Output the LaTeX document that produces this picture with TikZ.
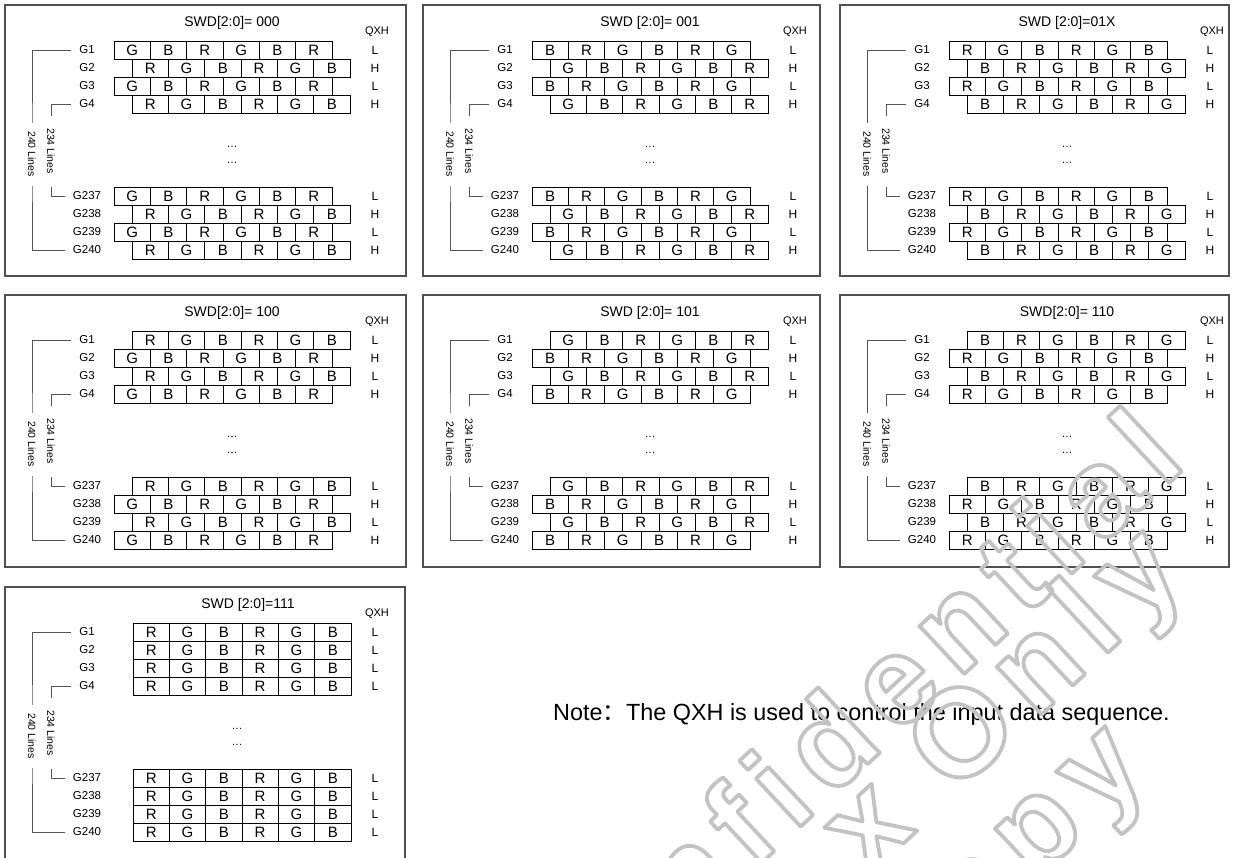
\documentclass[tikz,border=0pt]{standalone}
\usepackage{fontspec}
\setmainfont{Liberation Sans}
\newfontfamily\cjkfont{Noto Sans CJK SC}
\newfontfamily\wmfont[LetterSpace=12]{Liberation Sans}
\definecolor{framegray}{RGB}{80,80,80}
\definecolor{linegray}{RGB}{85,85,85}
\definecolor{wmgray}{RGB}{195,195,195}
\newcommand\outlined[1]{\special{pdf:code 1 Tr 3.8 w 1 j}#1\special{pdf:code 0 Tr}}
\tikzset{
 frame/.style={draw=framegray, line width=1.1pt},
 cell/.style={draw=black, line width=0.9pt, minimum width=36.33pt, minimum height=18pt, inner sep=0pt, font=\fontsize{15}{15}\selectfont, text height=10.8pt, text depth=0pt},
 title/.style={font=\fontsize{14}{14}\selectfont, inner sep=1pt},
 qxh/.style={font=\fontsize{11}{11}\selectfont, inner sep=1pt},
 qval/.style={font=\fontsize{12}{12}\selectfont, inner sep=1pt},
 glabel/.style={font=\fontsize{11.5}{11.5}\selectfont, inner xsep=8pt, inner ysep=1pt},
 dotsty/.style={font=\fontsize{11}{11}\selectfont, inner sep=0pt},
 bracket/.style={draw=linegray, line width=1pt},
 linestxt/.style={font=\fontsize{10.5}{10.5}\selectfont, fill=white, rotate=-90, inner ysep=1.5pt, inner xsep=0pt},
 note/.style={font=\fontsize{23.4}{23.4}\selectfont, anchor=base west, inner sep=0pt},
 wm/.style={font=\wmfont\bfseries\fontsize{124}{124}\selectfont, text=wmgray, rotate=43, inner sep=0pt},
}
\newcommand\rgbrow[4]{%
  \foreach \c [count=\i] in #4 {%
    \node[cell] (#1-\i) at ({#2+(\i-0.5)*36.33},{#3+9}) {\c};
  }%
}
\def\titlex{227}
\def\dotx{227}
\newcommand\panel[6]{%
\begin{scope}[shift={(#2,#3)}]
 \draw[frame] (0,0) rectangle (#4,#5);
 \node[title] (#1-t) at (\titlex,18) {#6};
 \node[qxh] (#1-qxh) at (372,27) {QXH};
 \rgbrow{#1-r1}{\oddoff}{36}{\oddseq}
 \rgbrow{#1-r2}{\evenoff}{54}{\evenseq}
 \rgbrow{#1-r3}{\oddoff}{72}{\oddseq}
 \rgbrow{#1-r4}{\evenoff}{90}{\evenseq}
 \rgbrow{#1-r5}{\oddoff}{182}{\oddseq}
 \rgbrow{#1-r6}{\evenoff}{200}{\evenseq}
 \rgbrow{#1-r7}{\oddoff}{218}{\oddseq}
 \rgbrow{#1-r8}{\evenoff}{236}{\evenseq}
 \foreach \g/\yy [count=\k] in {G1/45,G2/63,G3/81,G4/99,G237/191,G238/209,G239/227,G240/245} {
   \node[glabel] (#1-g\k) at (82,\yy) {\g};
 }
 \node[qval] (#1-q1) at (370,45) {\oddq};
 \node[qval] (#1-q2) at (370,63) {\evenq};
 \node[qval] (#1-q3) at (370,81) {\oddq};
 \node[qval] (#1-q4) at (370,99) {\evenq};
 \node[qval] (#1-q5) at (370,191) {\oddq};
 \node[qval] (#1-q6) at (370,209) {\evenq};
 \node[qval] (#1-q7) at (370,227) {\oddq};
 \node[qval] (#1-q8) at (370,245) {\evenq};
 \node[dotsty] (#1-d1) at (\dotx,142) {…};
 \node[dotsty] (#1-d2) at (\dotx,158) {…};
 \coordinate (#1-om) at (27,149);
 \coordinate (#1-im) at (46,146);
 \draw[bracket] (#1-g1.west) -| (#1-om) |- (#1-g8.west);
 \draw[bracket] (#1-g4.west) -| (#1-im) |- (#1-g5.west);
 \node[linestxt, minimum width=63pt] (#1-ot) at (#1-om) {240 Lines};
 \node[linestxt, minimum width=71pt] (#1-it) at (#1-im) {234 Lines};
\end{scope}}
\begin{document}
\begin{tikzpicture}[x=1pt,y=-1pt]
\useasboundingbox[fill=white] (0,0) rectangle (1234,857);
% panel 1
\def\oddoff{109}\def\evenoff{127}
\def\oddseq{G,B,R,G,B,R}\def\evenseq{R,G,B,R,G,B}\def\oddq{L}\def\evenq{H}
\panel{pa}{5}{5}{401}{271}{SWD[2:0]= 000}
\def\oddseq{B,R,G,B,R,G}\def\evenseq{G,B,R,G,B,R}
\panel{pb}{423}{5}{397}{271}{SWD [2:0]= 001}
\def\oddseq{R,G,B,R,G,B}\def\evenseq{B,R,G,B,R,G}
\panel{pc}{840}{5}{389}{271}{SWD [2:0]=01X}
% row 2
\def\oddoff{127}\def\evenoff{109}
\def\oddseq{R,G,B,R,G,B}\def\evenseq{G,B,R,G,B,R}
\panel{pd}{5}{295}{401}{272}{SWD[2:0]= 100}
\def\oddseq{G,B,R,G,B,R}\def\evenseq{B,R,G,B,R,G}
\panel{pe}{423}{295}{397}{272}{SWD [2:0]= 101}
\def\oddseq{B,R,G,B,R,G}\def\evenseq{R,G,B,R,G,B}
\panel{pf}{840}{295}{389}{272}{SWD[2:0]= 110}
% row 3
\def\oddoff{128}\def\evenoff{128}
\def\oddseq{R,G,B,R,G,B}\def\evenseq{R,G,B,R,G,B}\def\oddq{L}\def\evenq{L}
\def\titlex{243}\def\dotx{232}
\panel{pg}{5}{587}{400}{275}{SWD [2:0]=111}
\node[note] (note) at (553,720) {Note{\cjkfont ：}The QXH is used to control the input data sequence.};
% watermark
\node[wm] (wm1) at (836,733) {\outlined{Confidential}};
\node[wm] (wm2) at (1006,704) {\outlined{x Only}};
\node[wm] (wm3) at (1000,872) {\outlined{Copy}};
\end{tikzpicture}
\end{document}
